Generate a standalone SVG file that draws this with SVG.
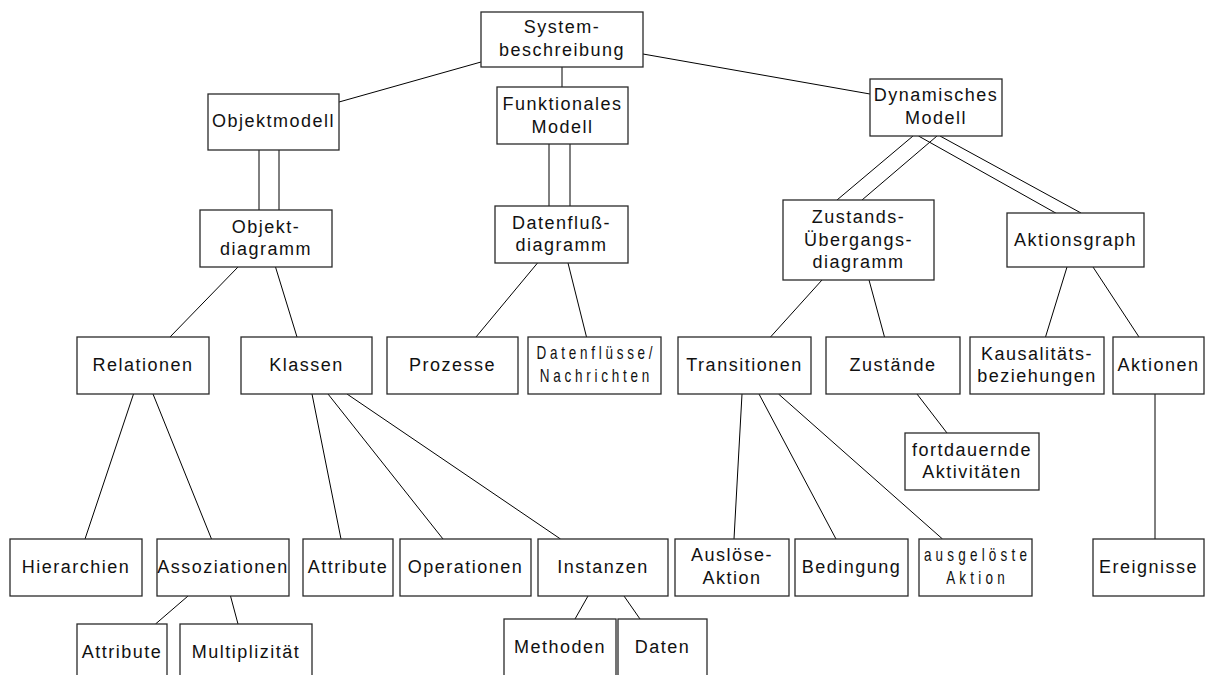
<svg xmlns="http://www.w3.org/2000/svg" width="1208" height="675" viewBox="0 0 1208 675">
  <style>
    .box { fill: #ffffff; stroke: #2a2a2a; stroke-width: 1.3; }
    .lbl { font-family: "Liberation Sans", Arial, Helvetica, sans-serif; font-size: 18px; letter-spacing: 1.5px; text-anchor: middle; fill: #111111; }
    .narrow { letter-spacing: 5px; }
    .narrow2 { letter-spacing: 5.6px; }
    #connectors line { stroke: #000000; stroke-width: 1; fill: none; }
  </style>
  <rect width="1208" height="675" fill="#ffffff"/>

  <!-- connectors -->
  <g id="connectors">
    <line x1="481" y1="62" x2="339" y2="102"/>
    <line x1="562" y1="67" x2="562" y2="87"/>
    <line x1="643" y1="54" x2="870" y2="94"/>
    <!-- double links -->
    <line x1="259" y1="150" x2="259" y2="210"/>
    <line x1="279" y1="150" x2="279" y2="210"/>
    <line x1="549" y1="144" x2="549" y2="206"/>
    <line x1="570" y1="144" x2="570" y2="206"/>
    <line x1="913" y1="136" x2="837" y2="200"/>
    <line x1="937" y1="136" x2="862" y2="200"/>
    <line x1="918.5" y1="136" x2="1061" y2="216"/>
    <line x1="940" y1="136" x2="1081" y2="213"/>
    <!-- second level -->
    <line x1="238" y1="267" x2="170" y2="337"/>
    <line x1="275.5" y1="267" x2="297" y2="337"/>
    <line x1="537.5" y1="263" x2="476" y2="337"/>
    <line x1="568" y1="263" x2="586.5" y2="337"/>
    <line x1="822" y1="280" x2="770.5" y2="337"/>
    <line x1="869" y1="280" x2="884.5" y2="337"/>
    <line x1="1067" y1="267" x2="1045.5" y2="337"/>
    <line x1="1093" y1="267" x2="1139" y2="337"/>
    <!-- third level -->
    <line x1="133.5" y1="394" x2="85" y2="539"/>
    <line x1="153" y1="394" x2="211.5" y2="539"/>
    <line x1="312" y1="394" x2="341" y2="539"/>
    <line x1="328" y1="394" x2="443" y2="539"/>
    <line x1="347" y1="394" x2="560.5" y2="539"/>
    <line x1="917" y1="394" x2="947" y2="433"/>
    <line x1="742" y1="394" x2="734" y2="539"/>
    <line x1="759" y1="394" x2="836" y2="539"/>
    <line x1="778.5" y1="394" x2="942.5" y2="539"/>
    <line x1="1155" y1="394" x2="1155" y2="539"/>
    <!-- fourth level -->
    <line x1="188" y1="596" x2="155.5" y2="624"/>
    <line x1="230.5" y1="596" x2="238" y2="624"/>
    <line x1="588" y1="596" x2="575" y2="619"/>
    <line x1="624" y1="596" x2="640" y2="619"/>
  </g>

  <!-- nodes -->
  <g id="n-systembeschreibung">
    <rect class="box" x="481" y="12" width="162" height="55"/>
    <text class="lbl" x="562" y="33">System-</text>
    <text class="lbl" x="562" y="56">beschreibung</text>
  </g>
  <g id="n-objektmodell">
    <rect class="box" x="208" y="94" width="131" height="56"/>
    <text class="lbl" x="273.5" y="127.3">Objektmodell</text>
  </g>
  <g id="n-funktionales-modell">
    <rect class="box" x="497" y="87" width="131" height="57"/>
    <text class="lbl" x="562.5" y="110">Funktionales</text>
    <text class="lbl" x="562.5" y="132.5">Modell</text>
  </g>
  <g id="n-dynamisches-modell">
    <rect class="box" x="870" y="79" width="132" height="57"/>
    <text class="lbl" x="936" y="101">Dynamisches</text>
    <text class="lbl" x="936" y="124">Modell</text>
  </g>
  <g id="n-objektdiagramm">
    <rect class="box" x="200" y="210" width="132" height="57"/>
    <text class="lbl" x="266" y="232.5">Objekt-</text>
    <text class="lbl" x="266" y="255">diagramm</text>
  </g>
  <g id="n-datenflussdiagramm">
    <rect class="box" x="495" y="206" width="133" height="57"/>
    <text class="lbl" x="561.5" y="228.5">Datenfluß-</text>
    <text class="lbl" x="561.5" y="251">diagramm</text>
  </g>
  <g id="n-zustandsuebergangsdiagramm">
    <rect class="box" x="783" y="200" width="151" height="80"/>
    <text class="lbl" x="858.5" y="223">Zustands-</text>
    <text class="lbl" x="858.5" y="245.5">Übergangs-</text>
    <text class="lbl" x="858.5" y="268">diagramm</text>
  </g>
  <g id="n-aktionsgraph">
    <rect class="box" x="1007" y="213" width="137" height="54"/>
    <text class="lbl" x="1075.5" y="245.5">Aktionsgraph</text>
  </g>
  <g id="n-relationen">
    <rect class="box" x="77" y="337" width="132" height="57"/>
    <text class="lbl" x="143" y="370.8">Relationen</text>
  </g>
  <g id="n-klassen">
    <rect class="box" x="241" y="337" width="131" height="57"/>
    <text class="lbl" x="306.5" y="370.8">Klassen</text>
  </g>
  <g id="n-prozesse">
    <rect class="box" x="387" y="337" width="131" height="57"/>
    <text class="lbl" x="452.5" y="370.8">Prozesse</text>
  </g>
  <g id="n-datenfluesse">
    <rect class="box" x="528" y="337" width="133" height="57"/>
    <text class="lbl narrow" transform="translate(596.4 0) scale(0.75 1)" x="0" y="359">Datenflüsse/</text>
    <text class="lbl narrow" transform="translate(596.4 0) scale(0.75 1)" x="0" y="382">Nachrichten</text>
  </g>
  <g id="n-transitionen">
    <rect class="box" x="678" y="337" width="133" height="57"/>
    <text class="lbl" x="744.5" y="370.8">Transitionen</text>
  </g>
  <g id="n-zustaende">
    <rect class="box" x="826" y="337" width="134" height="57"/>
    <text class="lbl" x="893" y="370.8">Zustände</text>
  </g>
  <g id="n-kausalitaetsbeziehungen">
    <rect class="box" x="970" y="337" width="134" height="57"/>
    <text class="lbl" x="1037" y="359.5">Kausalitäts-</text>
    <text class="lbl" x="1037" y="382">beziehungen</text>
  </g>
  <g id="n-aktionen">
    <rect class="box" x="1113" y="337" width="91" height="57"/>
    <text class="lbl" x="1158.5" y="370.8">Aktionen</text>
  </g>
  <g id="n-fortdauernde-aktivitaeten">
    <rect class="box" x="905" y="433" width="134" height="57"/>
    <text class="lbl" x="972" y="455.5">fortdauernde</text>
    <text class="lbl" x="972" y="478">Aktivitäten</text>
  </g>
  <g id="n-hierarchien">
    <rect class="box" x="10" y="539" width="132" height="57"/>
    <text class="lbl" x="76" y="572.8">Hierarchien</text>
  </g>
  <g id="n-assoziationen">
    <rect class="box" x="157" y="539" width="132" height="57"/>
    <text class="lbl" x="223" y="572.8">Assoziationen</text>
  </g>
  <g id="n-attribute-klassen">
    <rect class="box" x="303" y="539" width="90" height="57"/>
    <text class="lbl" x="348" y="572.8">Attribute</text>
  </g>
  <g id="n-operationen">
    <rect class="box" x="400" y="539" width="131" height="57"/>
    <text class="lbl" x="465.5" y="572.8">Operationen</text>
  </g>
  <g id="n-instanzen">
    <rect class="box" x="538" y="539" width="130" height="57"/>
    <text class="lbl" x="603" y="572.8">Instanzen</text>
  </g>
  <g id="n-ausloese-aktion">
    <rect class="box" x="675" y="539" width="114" height="57"/>
    <text class="lbl" x="732" y="561">Auslöse-</text>
    <text class="lbl" x="732" y="584">Aktion</text>
  </g>
  <g id="n-bedingung">
    <rect class="box" x="795" y="539" width="113" height="57"/>
    <text class="lbl" x="851.5" y="572.8">Bedingung</text>
  </g>
  <g id="n-ausgeloeste-aktion">
    <rect class="box" x="919" y="539" width="113" height="57"/>
    <text class="lbl narrow2" transform="translate(977.5 0) scale(0.75 1)" x="0" y="561">ausgelöste</text>
    <text class="lbl narrow2" transform="translate(977.5 0) scale(0.75 1)" x="0" y="584">Aktion</text>
  </g>
  <g id="n-ereignisse">
    <rect class="box" x="1093" y="539" width="111" height="57"/>
    <text class="lbl" x="1148.5" y="572.8">Ereignisse</text>
  </g>
  <g id="n-attribute-assoziationen">
    <rect class="box" x="77" y="624" width="90" height="57"/>
    <text class="lbl" x="122" y="657.8">Attribute</text>
  </g>
  <g id="n-multiplizitaet">
    <rect class="box" x="180" y="624" width="132" height="57"/>
    <text class="lbl" x="246" y="657.8">Multiplizität</text>
  </g>
  <g id="n-methoden">
    <rect class="box" x="504" y="619" width="112" height="57"/>
    <text class="lbl" x="560" y="652.8">Methoden</text>
  </g>
  <g id="n-daten">
    <rect class="box" x="618" y="619" width="89" height="57"/>
    <text class="lbl" x="662.5" y="652.8">Daten</text>
  </g>
</svg>
